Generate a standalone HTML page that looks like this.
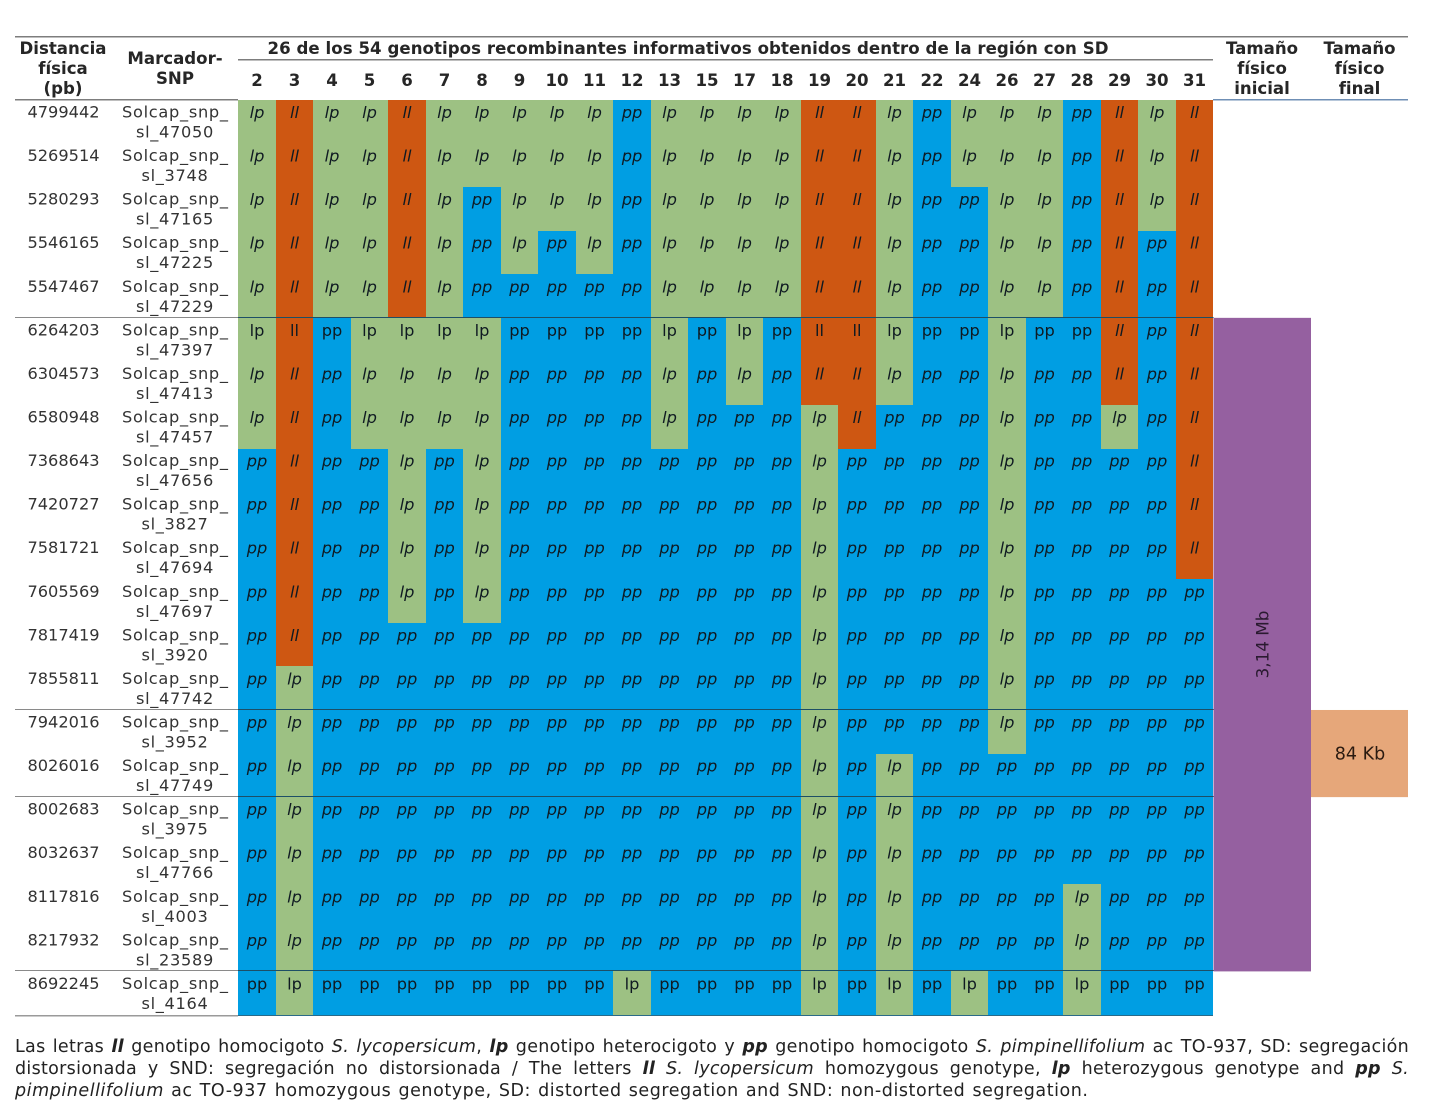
<!DOCTYPE html>
<html lang="es">
<head>
<meta charset="utf-8">
<title>Genotipos recombinantes</title>
<style>
  html, body { margin: 0; padding: 0; background: #fff; }
  body { width: 1438px; height: 1117px; overflow: hidden; position: relative; font-family: "DejaVu Sans", "Liberation Sans", sans-serif; color: #1e1e1e; }
  svg { position: absolute; left: 0; top: 0; }
  svg text { font-family: "DejaVu Sans", "Liberation Sans", sans-serif; fill: #222; }
  .hdr { font-weight: bold; font-size: 16.6px; text-anchor: middle; fill: #262626; }
  .lbl { font-size: 16.2px; text-anchor: middle; fill: #333; }
  .lbl2 { letter-spacing: .7px; }
  .geno { font-size: 16.2px; text-anchor: middle; fill: #0f1a22; }
  .note { position: absolute; left: 15px; width: 1394px; font-size: 17.5px; letter-spacing: .55px; word-spacing: 1px; line-height: 22px; height: 22px; white-space: nowrap; color: #222; }
  .just { text-align: justify; text-align-last: justify; white-space: normal; letter-spacing: .3px; word-spacing: 0; }
</style>
</head>
<body>
<svg id="chart" width="1438" height="1117" viewBox="0 0 1438 1117" xmlns="http://www.w3.org/2000/svg">
  <g id="cells" shape-rendering="crispEdges"></g>
  <g id="blocks"></g>
  <g id="rules" shape-rendering="crispEdges"></g>
  <g>
    <text class="hdr" x="63" y="54">Distancia</text>
    <text class="hdr" x="63" y="74">física</text>
    <text class="hdr" x="63" y="94">(pb)</text>
    <text class="hdr" x="175" y="64">Marcador-</text>
    <text class="hdr" x="175" y="84">SNP</text>
    <text class="hdr" x="688" y="54" textLength="841" lengthAdjust="spacing">26 de los 54 genotipos recombinantes informativos obtenidos dentro de la región con SD</text>
    <text class="hdr" x="1262" y="54">Tamaño</text>
    <text class="hdr" x="1262" y="74">físico</text>
    <text class="hdr" x="1262" y="94">inicial</text>
    <text class="hdr" x="1359.5" y="54">Tamaño</text>
    <text class="hdr" x="1359.5" y="74">físico</text>
    <text class="hdr" x="1359.5" y="94">final</text>
  </g>
  <g id="colLabels"></g>
  <g id="rowLabels"></g>
  <g id="cellText"></g>
</svg>

<div>
  <div class="note just" style="top:1036px">Las letras <b><i>ll</i></b> genotipo homocigoto <i>S. lycopersicum</i>, <b><i>lp</i></b> genotipo heterocigoto y <b><i>pp</i></b> genotipo homocigoto <i>S. pimpinellifolium</i> ac TO-937, SD: segregación</div>
  <div class="note just" style="top:1058px">distorsionada y SND: segregación no distorsionada / The letters <b><i>ll</i></b> <i>S. lycopersicum</i> homozygous genotype, <b><i>lp</i></b> heterozygous genotype and <b><i>pp</i></b> <i>S.</i></div>
  <div class="note" style="top:1080px"><i>pimpinellifolium</i> ac TO-937 homozygous genotype, SD: distorted segregation and SND: non-distorted segregation.</div>
</div>

<script>
const genotypeColumns = ["2","3","4","5","6","7","8","9","10","11","12","13","15","17","18","19","20","21","22","24","26","27","28","29","30","31"];
const physicalDistances = ["4799442","5269514","5280293","5546165","5547467","6264203","6304573","6580948","7368643","7420727","7581721","7605569","7817419","7855811","7942016","8026016","8002683","8032637","8117816","8217932","8692245"];
const markerIds = ["47050","3748","47165","47225","47229","47397","47413","47457","47656","3827","47694","47697","3920","47742","3952","47749","3975","47766","4003","23589","4164"];
const genotypeRows = [
  ["lp","ll","lp","lp","ll","lp","lp","lp","lp","lp","pp","lp","lp","lp","lp","ll","ll","lp","pp","lp","lp","lp","pp","ll","lp","ll"],
  ["lp","ll","lp","lp","ll","lp","lp","lp","lp","lp","pp","lp","lp","lp","lp","ll","ll","lp","pp","lp","lp","lp","pp","ll","lp","ll"],
  ["lp","ll","lp","lp","ll","lp","pp","lp","lp","lp","pp","lp","lp","lp","lp","ll","ll","lp","pp","pp","lp","lp","pp","ll","lp","ll"],
  ["lp","ll","lp","lp","ll","lp","pp","lp","pp","lp","pp","lp","lp","lp","lp","ll","ll","lp","pp","pp","lp","lp","pp","ll","pp","ll"],
  ["lp","ll","lp","lp","ll","lp","pp","pp","pp","pp","pp","lp","lp","lp","lp","ll","ll","lp","pp","pp","lp","lp","pp","ll","pp","ll"],
  ["lp","ll","pp","lp","lp","lp","lp","pp","pp","pp","pp","lp","pp","lp","pp","ll","ll","lp","pp","pp","lp","pp","pp","ll","pp","ll"],
  ["lp","ll","pp","lp","lp","lp","lp","pp","pp","pp","pp","lp","pp","lp","pp","ll","ll","lp","pp","pp","lp","pp","pp","ll","pp","ll"],
  ["lp","ll","pp","lp","lp","lp","lp","pp","pp","pp","pp","lp","pp","pp","pp","lp","ll","pp","pp","pp","lp","pp","pp","lp","pp","ll"],
  ["pp","ll","pp","pp","lp","pp","lp","pp","pp","pp","pp","pp","pp","pp","pp","lp","pp","pp","pp","pp","lp","pp","pp","pp","pp","ll"],
  ["pp","ll","pp","pp","lp","pp","lp","pp","pp","pp","pp","pp","pp","pp","pp","lp","pp","pp","pp","pp","lp","pp","pp","pp","pp","ll"],
  ["pp","ll","pp","pp","lp","pp","lp","pp","pp","pp","pp","pp","pp","pp","pp","lp","pp","pp","pp","pp","lp","pp","pp","pp","pp","ll"],
  ["pp","ll","pp","pp","lp","pp","lp","pp","pp","pp","pp","pp","pp","pp","pp","lp","pp","pp","pp","pp","lp","pp","pp","pp","pp","pp"],
  ["pp","ll","pp","pp","pp","pp","pp","pp","pp","pp","pp","pp","pp","pp","pp","lp","pp","pp","pp","pp","lp","pp","pp","pp","pp","pp"],
  ["pp","lp","pp","pp","pp","pp","pp","pp","pp","pp","pp","pp","pp","pp","pp","lp","pp","pp","pp","pp","lp","pp","pp","pp","pp","pp"],
  ["pp","lp","pp","pp","pp","pp","pp","pp","pp","pp","pp","pp","pp","pp","pp","lp","pp","pp","pp","pp","lp","pp","pp","pp","pp","pp"],
  ["pp","lp","pp","pp","pp","pp","pp","pp","pp","pp","pp","pp","pp","pp","pp","lp","pp","lp","pp","pp","pp","pp","pp","pp","pp","pp"],
  ["pp","lp","pp","pp","pp","pp","pp","pp","pp","pp","pp","pp","pp","pp","pp","lp","pp","lp","pp","pp","pp","pp","pp","pp","pp","pp"],
  ["pp","lp","pp","pp","pp","pp","pp","pp","pp","pp","pp","pp","pp","pp","pp","lp","pp","lp","pp","pp","pp","pp","pp","pp","pp","pp"],
  ["pp","lp","pp","pp","pp","pp","pp","pp","pp","pp","pp","pp","pp","pp","pp","lp","pp","lp","pp","pp","pp","pp","lp","pp","pp","pp"],
  ["pp","lp","pp","pp","pp","pp","pp","pp","pp","pp","pp","pp","pp","pp","pp","lp","pp","lp","pp","pp","pp","pp","lp","pp","pp","pp"],
  ["pp","lp","pp","pp","pp","pp","pp","pp","pp","pp","lp","pp","pp","pp","pp","lp","pp","lp","pp","lp","pp","pp","lp","pp","pp","pp"]
];
const groupEndRows = [5, 14, 16, 20];
const initialSizeLabel = "3,14 Mb";
const initialSizeSpan = [5, 20];
const finalSizeLabel = "84 Kb";
const finalSizeSpan = [14, 16];

const NS = "http://www.w3.org/2000/svg";
const colLeft = 238.3, colWidth = 37.5, rowTop = 100, rowHeight = 43.57;
const x = c => colLeft + colWidth * c;
const y = r => rowTop + rowHeight * r;
const colours = { lp: "#9dc183", ll: "#ce5712", pp: "#009ee3" };
const isUpright = (r, c) => (r === 5 && c < 23) || r === 20;

function mk(tag, parent, attrs, content) {
  const el = document.createElementNS(NS, tag);
  for (const k in attrs) el.setAttribute(k, attrs[k]);
  if (content !== undefined) el.textContent = content;
  document.getElementById(parent).appendChild(el);
  return el;
}

genotypeColumns.forEach((label, c) => {
  const t = mk("text", "colLabels", { class: "hdr", x: x(c) + colWidth / 2, y: 86 }, label);
  
  
});

physicalDistances.forEach((dist, r) => {
  const d = mk("text", "rowLabels", { class: "lbl", x: 63.5, y: y(r) + 17.5 }, dist);
  
  
  const m1 = mk("text", "rowLabels", { class: "lbl", x: 175, y: y(r) + 17.5, textLength: 106, lengthAdjust: "spacing" }, "Solcap_snp_");
  
  
  const m2 = mk("text", "rowLabels", { class: "lbl lbl2", x: 175, y: y(r) + 37.5 }, "sl_" + markerIds[r]);
  
  
});

genotypeRows.forEach((row, r) => {
  row.forEach((g, c) => {
    const rect = mk("rect", "cells", {
      x: Math.round(x(c)), y: Math.round(y(r)),
      width: Math.round(x(c + 1)) - Math.round(x(c)),
      height: Math.round(y(r + 1)) - Math.round(y(r)),
      fill: colours[g]
    });
    
    
    const t = mk("text", "cellText", {
      class: "geno", x: x(c) + colWidth / 2, y: y(r) + 18,
      "font-style": isUpright(r, c) ? "normal" : "italic"
    }, g);
    
    
  });
});

const ruleRows = groupEndRows.map(r => Math.round(y(r)) - 0.5);
ruleRows.forEach(py => {
  const l = mk("line", "rules", { x1: 15, x2: 238, y1: py, y2: py, stroke: "#8a8a8a", "stroke-width": 1 });
  
  
  const l2 = mk("line", "rules", { x1: 238, x2: x(genotypeColumns.length), y1: py, y2: py, stroke: "#1d4f66", "stroke-width": 1 });
  
  
});

[[15, 1408, 36.5, "#7d7d7d", 1.5, 'top-rule'],
 [238, 1213, 59.5, "#7d7d7d", 1.5, 'subheader-rule'],
 [15, 238, 99.5, "#7d7d7d", 1.5, 'header-rule'],
 [1213, 1408, 99.5, "#6f8fb5", 1.5, 'header-rule-right'],
 [15, 238, 1015.5, "#9a9a9a", 1.5, 'bottom-rule-left'],
 [238, 1213, 1015.5, "#2a6a88", 1, 'bottom-rule']
].forEach(d => {
  const l = mk("line", "rules", { x1: d[0], x2: d[1], y1: d[2], y2: d[2], stroke: d[3], "stroke-width": d[4] });
  
  
});

const purple = mk("rect", "blocks", { x: 1213.5, y: y(initialSizeSpan[0]), width: 97.5, height: y(initialSizeSpan[1]) - y(initialSizeSpan[0]), fill: "#9560a0" });


const purpleText = mk("text", "blocks", { x: 0, y: 0, transform: "translate(1268.5 644.5) rotate(-90)", "text-anchor": "middle", "font-size": "16.8", style: "fill:#2a1a30" }, initialSizeLabel);


const peach = mk("rect", "blocks", { x: 1311, y: y(finalSizeSpan[0]), width: 97, height: y(finalSizeSpan[1]) - y(finalSizeSpan[0]), fill: "#e6a77a" });


const peachText = mk("text", "blocks", { x: 1360, y: (y(finalSizeSpan[0]) + y(finalSizeSpan[1])) / 2 + 6, "text-anchor": "middle", "font-size": "17.5", style: "fill:#2a1a10" }, finalSizeLabel);


</script>
</body>
</html>
